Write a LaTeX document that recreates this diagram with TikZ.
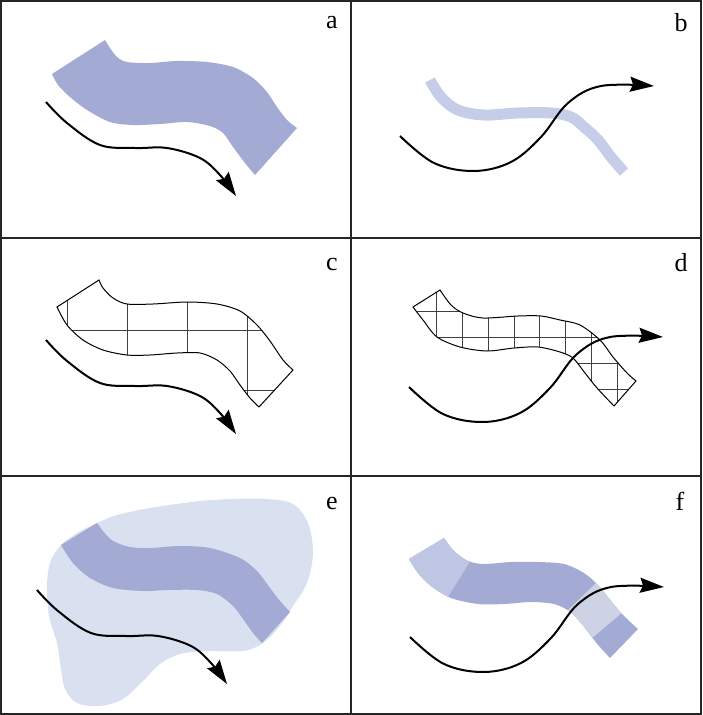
\documentclass[tikz,border=0pt]{standalone}
\usepackage{fontspec}
\setmainfont{Liberation Serif}
\usetikzlibrary{arrows.meta}
\definecolor{banddark}{HTML}{A3AAD4}
\definecolor{bandlight}{HTML}{C6CDE8}
\definecolor{blobcol}{HTML}{D9E1F0}
\definecolor{endlight}{HTML}{BEC6E4}
\definecolor{palemid}{HTML}{CDD2E4}
\tikzset{
  frameline/.style={line width=1.2pt, draw=black!85},
  flowarrow/.style={line width=2pt, line join=round, -{Stealth[length=24pt,width=15pt,inset=3pt]}},
  outline/.style={line width=1pt, draw=black},
  gridline/.style={line width=0.7pt, draw=black!75},
  lab/.style={font=\fontsize{26}{28}\selectfont, inner sep=0pt},
}
\newcommand\arrowA{plot[smooth,tension=0.6] coordinates {(46,102) (67,123) (100,145) (135,148) (167,148) (200,158) (220,175) (236,196)}}
\newcommand\arrowB{plot[smooth,tension=0.6] coordinates {(49,136) (83,163) (123,171) (160,162) (190,137) (217,103) (250,86) (303,86)}}
\newcommand\bandA{plot[smooth,tension=0.5] coordinates {(105,40) (110,48) (117,57) (127,62) (150,63) (177,61) (207,62) (233,67) (253,78) (267,92) (277,107) (287,120) (297,128)} -- plot[smooth,tension=0.5] coordinates {(255,175) (245,163) (233,147) (223,133) (210,126) (187,122) (160,124) (133,125) (110,122) (87,110) (70,97) (58,85) (52,74)} -- cycle}
\newcommand\bandC{plot[smooth,tension=0.5] coordinates {(99,42) (103,50) (113,60) (127,66) (153,66) (187,64) (217,66) (240,73) (257,87) (270,103) (283,122) (293,132)} -- plot[smooth,tension=0.5] coordinates {(259,169) (250,160) (240,147) (230,133) (217,122) (200,115) (177,115) (150,117) (127,117) (103,112) (83,102) (67,87) (57,69)} -- cycle}
\newcommand\bandD{plot[smooth,tension=0.5] coordinates {(89,52) (100,67) (112,75) (132,80) (167,78) (190,78) (209,82) (229,87) (249,102) (262,119) (276,135) (285,143)} -- plot[smooth,tension=0.5] coordinates {(263,168) (246,150) (234,135) (222,120) (209,114) (187,109) (163,110) (136,113) (109,109) (86,99) (72,82) (62,69)} -- cycle}
\newcommand\bandE{plot[smooth,tension=0.5] coordinates {(97,47) (103,55) (113,65) (130,71) (150,72) (180,70) (210,72) (240,82) (257,95) (270,112) (280,125) (290,136)} -- plot[smooth,tension=0.5] coordinates {(262,167) (253,157) (243,143) (233,130) (217,118) (197,114) (167,114) (143,115) (113,112) (90,102) (73,87) (61,69)} -- cycle}
\newcommand\bandF{plot[smooth,tension=0.5] coordinates {(93,62) (103,75) (117,85) (133,88) (160,86) (187,86) (213,88) (233,97) (248,110) (260,125) (273,140) (287,153)} -- plot[smooth,tension=0.5] coordinates {(259,182) (248,170) (240,160) (230,147) (218,135) (203,128) (180,126) (153,128) (127,128) (100,122) (80,110) (67,97) (58,83)} -- cycle}
\begin{document}
\begin{tikzpicture}[x=1pt,y=-1pt]
\useasboundingbox (0,0) rectangle (702,715);
% frame and dividers
\coordinate (tl) at (1,1);
\coordinate (br) at (701,714);
\draw[frameline] (tl) rectangle (br);
\coordinate (vt) at (351,1);
\coordinate (vb) at (351,714);
\draw[frameline] (vt) -- (vb);
\coordinate (h1l) at (1,238);
\coordinate (h1r) at (701,238);
\draw[frameline] (h1l) -- (h1r);
\coordinate (h2l) at (1,476);
\coordinate (h2r) at (701,476);
\draw[frameline] (h2l) -- (h2r);

% panel a
\begin{scope}
  \fill[banddark] \bandA;
  \draw[flowarrow] \arrowA;
  \node[lab] (la) at (332,23) {a};
\end{scope}

% panel b
\begin{scope}[shift={(351,0)}]
  \draw[bandlight, line width=11pt, line cap=butt] plot[smooth,tension=0.6] coordinates {(79,80) (90,97) (107,110) (133,115) (167,113) (200,113) (220,117) (233,127) (247,140) (260,157) (273,172)};
  \draw[flowarrow] \arrowB;
  \node[lab] (lb) at (330,23) {b};
\end{scope}

% panel c
\begin{scope}[shift={(0,238)}]
  \begin{scope}
    \clip \bandC;
    \foreach \x in {67,127,187,247} \draw[gridline] (\x,0) -- (\x,238);
    \foreach \y in {92,152} \draw[gridline] (0,\y) -- (351,\y);
  \end{scope}
  \draw[outline] \bandC;
  \draw[flowarrow] \arrowA;
  \node[lab] (lc) at (332,26) {c};
\end{scope}

% panel d
\begin{scope}[shift={(351,238)}]
  \begin{scope}
    \clip \bandD;
    \foreach \k in {-1,...,8} \draw[gridline] ({85.7+25.75*\k},0) -- ++(0,238);
    \foreach \k in {-1,...,5} \draw[gridline] (0,{73.5+25.8*\k}) -- ++(351,0);
  \end{scope}
  \draw[outline] \bandD;
  \begin{scope}[shift={(9,13)}]
    \draw[flowarrow] \arrowB;
  \end{scope}
  \node[lab] (ld) at (330,25) {d};
\end{scope}

% panel e
\begin{scope}[shift={(0,476)}]
  \fill[blobcol] plot[smooth cycle,tension=0.55] coordinates {(50,87) (47,110) (49,140) (57,167) (61,193) (65,213) (77,227) (100,230) (123,223) (143,205) (160,188) (180,178) (207,175) (243,175) (263,167) (280,150) (293,130) (307,107) (313,77) (308,47) (293,28) (267,23) (233,23) (200,25) (150,32) (117,39) (97,47) (77,57) (60,70)};
  \fill[banddark] \bandE;
  \begin{scope}[shift={(-9,12)}]
    \draw[flowarrow] \arrowA;
  \end{scope}
  \node[lab] (le) at (332,27) {e};
\end{scope}

% panel f
\begin{scope}[shift={(351,476)}]
  \fill[banddark] \bandF;
  \begin{scope}
    \clip \bandF;
    \fill[endlight] (160,19) -- (55,189) -- (0,189) -- (0,19) -- cycle;
    \fill[palemid] (275,78) -- (188,162) -- (207,191) -- (306,107) -- cycle;
  \end{scope}
  \begin{scope}[shift={(10,25)}]
    \draw[flowarrow] \arrowB;
  \end{scope}
  \node[lab] (lf) at (329,25) {f};
\end{scope}
\end{tikzpicture}
\end{document}
